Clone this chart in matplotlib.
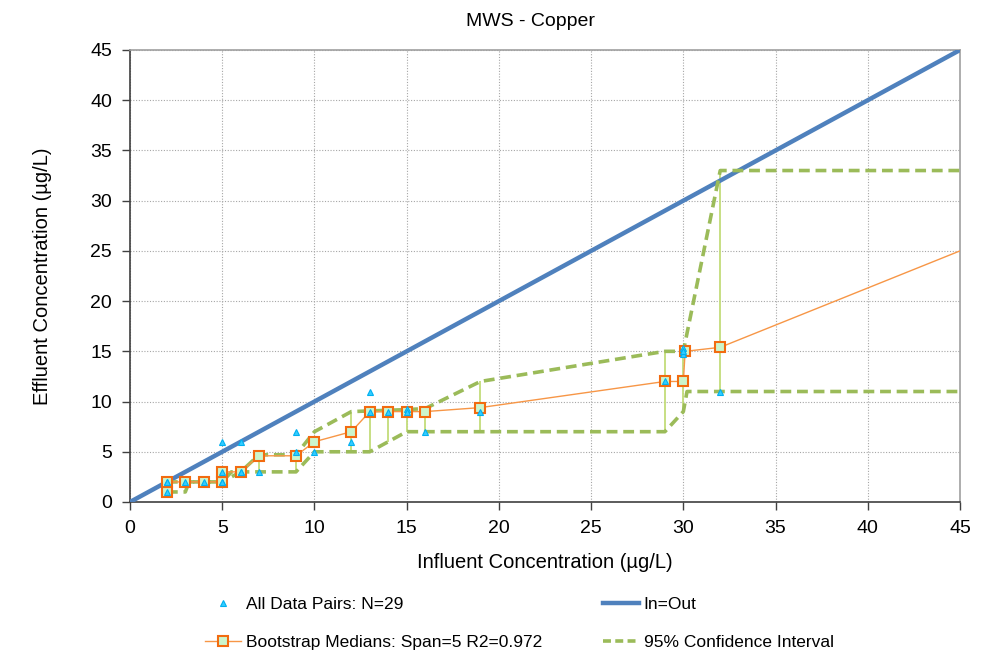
import matplotlib
matplotlib.use("Agg")
import matplotlib.pyplot as plt
from matplotlib.lines import Line2D

plt.rcParams['font.family'] = ['Liberation Sans', 'DejaVu Sans']

# All data pairs (influent, effluent)
pairs_x = [2, 2, 2, 3, 4, 5, 5, 5, 5, 6, 6, 6, 7, 9, 9, 10, 12, 13, 13, 14, 15, 15, 16, 19, 29, 30, 30, 30, 32]
pairs_y = [1, 2, 2, 2, 2, 2, 2, 3, 6, 3, 3, 6, 3, 5, 7, 5, 6, 11, 9, 9, 9.3, 9, 7, 9, 12, 15.3, 14.7, 15, 11]

# Bootstrap medians
med_x = [2, 2, 3, 4, 5, 5, 6, 7, 9, 10, 12, 13, 14, 15, 16, 19, 29, 30, 30.1, 32]
med_y = [1, 2, 2, 2, 2, 3, 3, 4.6, 4.6, 6, 7, 9, 9, 9, 9, 9.4, 12, 12, 15, 15.4]
# smoothed line continuation
line_x = med_x + [45]
line_y = med_y + [25]

# 95% confidence interval
ci_up_x = [2, 5, 6, 7, 9, 10, 12, 15, 16, 19, 29, 30, 32, 45]
ci_up_y = [2, 2, 3, 4.7, 4.7, 7, 9, 9.2, 9.3, 12, 15, 15, 33, 33]
ci_lo_x = [2, 3, 3.2, 5, 5.5, 9, 10, 13, 15, 29, 30, 30.2, 45]
ci_lo_y = [1, 1, 2, 2, 3, 3, 5, 5, 7, 7, 9, 11, 11]

# CI bars at medians
bar_x = [2, 7, 9, 12, 13, 14, 15, 16, 19, 29, 30, 32]
bar_lo = [1, 3, 3, 5, 5, 6, 7, 7, 7, 7, 9, 11]
bar_hi = [2, 4.7, 4.7, 9, 9, 9, 9.2, 9.3, 12, 15, 15, 33]

W, H = 1004, 655
fig = plt.figure(figsize=(W / 100, H / 100), dpi=100)
ax = fig.add_axes([130 / W, 1 - 502 / H, 830 / W, 452 / H])

ax.plot([0, 45], [0, 45], color='#4f81bd', lw=3.2, zorder=3, solid_capstyle='butt')
ax.vlines(bar_x, bar_lo, bar_hi, color='#c3dc7a', lw=1.3, zorder=2)
ax.plot(ci_up_x, ci_up_y, color='#9bbb59', lw=2.6, ls=(0, (3, 1.6)), zorder=4)
ax.plot(ci_lo_x, ci_lo_y, color='#9bbb59', lw=2.6, ls=(0, (3, 1.6)), zorder=4)
ax.plot(line_x, line_y, color='#f79646', lw=1.0, zorder=5)
ax.plot(med_x, med_y, ls='none', marker='s', ms=7.5, mfc='#ccf5cc', mec='#f26b10', mew=1.5, zorder=6)
ax.plot(pairs_x, pairs_y, ls='none', marker='^', ms=4.5, mfc='#33ccff', mec='#00b0f0', mew=0.8, zorder=7)

ax.set_xlim(0, 45)
ax.set_ylim(0, 45)
ax.set_xticks(range(0, 46, 5))
ax.set_yticks(range(0, 46, 5))
ax.grid(True, color='#a6a6a6', ls=(0, (1, 1.5)), lw=0.8)
ax.set_axisbelow(True)
for s in ['top', 'right']:
    ax.spines[s].set_color('#a0a0a0')
    ax.spines[s].set_linewidth(1.2)
for s in ['left', 'bottom']:
    ax.spines[s].set_color('#404040')
    ax.spines[s].set_linewidth(1.2)
ax.tick_params(direction='out', length=6, width=1, color='#404040', labelsize=14, pad=7)

fig.text(531 / W, 1 - 21 / H, 'MWS - Copper', fontsize=14, ha='center', va='center')
fig.text(545 / W, 1 - 563 / H, 'Influent Concentration (µg/L)', fontsize=14.5, ha='center', va='center')
fig.text(43 / W, 1 - 276 / H, 'Effluent Concentration (µg/L)', fontsize=14.5, ha='center', va='center',
         rotation=90)

h_data = Line2D([], [], ls='none', marker='^', ms=4.5, mfc='#33ccff', mec='#00b0f0', mew=0.8)
h_boot = Line2D([], [], color='#f79646', lw=1.0, marker='s', ms=6.5, mfc='#ccf5cc', mec='#f26b10', mew=1.5)
h_io = Line2D([], [], color='#4f81bd', lw=3.2)
h_ci = Line2D([], [], color='#9bbb59', lw=2.6, ls=(0, (2.2, 1.2)))

leg_kw = dict(loc='upper left', frameon=False, fontsize=12.5, handlelength=2.1, handletextpad=0.25,
              labelspacing=1.33, borderpad=0, borderaxespad=0)
leg1 = fig.legend([h_data, h_boot], ['All Data Pairs: N=29', 'Bootstrap Medians: Span=5 R2=0.972'],
                  bbox_to_anchor=(205 / W, 1 - 597 / H), **leg_kw)
leg2 = fig.legend([h_io, h_ci], ['In=Out', '95% Confidence Interval'],
                  bbox_to_anchor=(603 / W, 1 - 597 / H), **leg_kw)

fig.savefig('out.png', dpi=100)
